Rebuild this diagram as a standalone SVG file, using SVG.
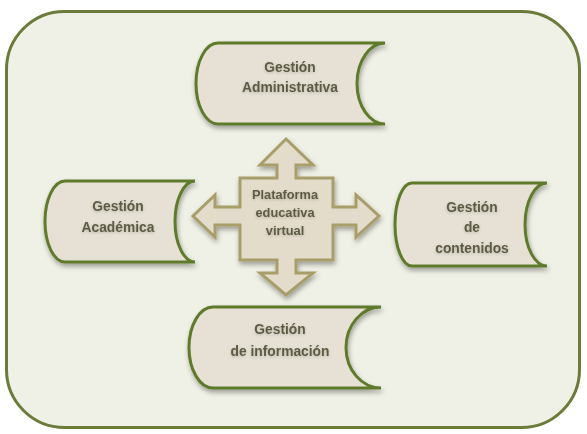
<svg xmlns="http://www.w3.org/2000/svg" width="587" height="434" viewBox="0 0 587 434">
<defs>
<filter id="sh" x="-20%" y="-20%" width="140%" height="150%">
<feDropShadow dx="1" dy="3" stdDeviation="2.5" flood-color="#000" flood-opacity="0.35"/>
</filter>
<filter id="tg" x="-20%" y="-40%" width="140%" height="180%">
<feDropShadow dx="0" dy="1" stdDeviation="1.5" flood-color="#000" flood-opacity="0.2"/>
</filter>
</defs>
<style>
.frame{fill:#eff1e6;stroke:#6b7b3a;stroke-width:3}
.doc{fill:#e6e1d4;stroke:#5e7a2c;stroke-width:3;filter:url(#sh)}
.cross{fill:#e3dccb;stroke:#a89e6b;stroke-width:3;filter:url(#sh)}
text{font-family:"Liberation Sans",Arial,sans-serif;font-weight:bold;font-size:13.8px;fill:#5d5b43;text-anchor:middle;filter:url(#tg)}
.c{font-size:12.8px}
</style>
<rect class="frame" x="6.5" y="11.5" width="573" height="416" rx="58" ry="58"/>
<g id="connectors"></g>
<g id="admin">
<path class="doc" d="M218,43 H385 A28,40.5 0 0 0 385,124 H218 A22,40.5 0 0 1 218,43 Z"/>
<text x="290" y="72">Gestión</text>
<text x="290" y="92">Administrativa</text>
</g>
<g id="academica">
<path class="doc" d="M65,181 H195 A20,40.5 0 0 0 195,262 H65 A20,40.5 0 0 1 65,181 Z"/>
<text x="118" y="211">Gestión</text>
<text x="118" y="232">Académica</text>
</g>
<g id="contenidos">
<path class="doc" d="M412,183 H547 A22,41.5 0 0 0 547,266 H412 A17,41.5 0 0 1 412,183 Z"/>
<text x="472" y="212">Gestión</text>
<text x="472" y="232">de</text>
<text x="472" y="253">contenidos</text>
</g>
<g id="informacion">
<path class="doc" d="M213,307 H381 A35,40.5 0 0 0 381,388 H213 A24,40.5 0 0 1 213,307 Z"/>
<text x="280" y="334">Gestión</text>
<text x="280" y="356">de información</text>
</g>
<g id="plataforma">
<path class="cross" d="M286,139 L313,165 L296,165 L296,178 L333,178 L333,207 L356,207 L356,195 L379,216 L356,237 L356,225 L333,225 L333,260 L296,260 L296,273 L313,273 L286,295 L260,273 L277,273 L277,260 L240,260 L240,225 L215,225 L215,237 L193,216 L215,195 L215,207 L240,207 L240,178 L277,178 L277,165 L260,165 Z"/>
<text class="c" x="285" y="199">Plataforma</text>
<text class="c" x="285" y="217">educativa</text>
<text class="c" x="285" y="235">virtual</text>
</g>
</svg>
